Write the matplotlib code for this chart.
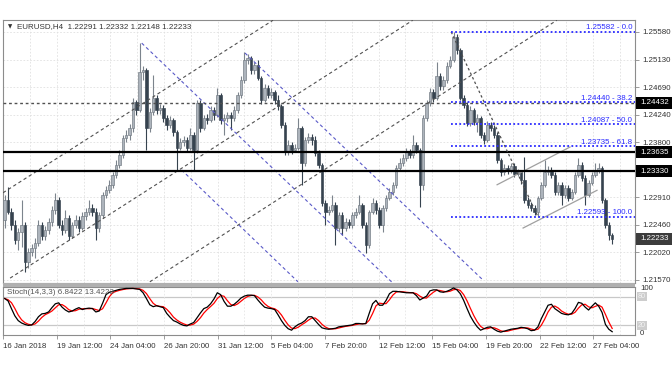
import numpy as np
import pandas as pd
import matplotlib
matplotlib.use("Agg")
import matplotlib.pyplot as plt
import matplotlib.transforms as mtransforms
from matplotlib.patches import Rectangle

plt.rcParams['font.family'] = ['Liberation Sans', 'DejaVu Sans']

# EURUSD H4 candles (bar index 0 = 16 Jan 2018)
opens = [1.2254, 1.2286, 1.2267, 1.2246, 1.2222, 1.2235, 1.2246, 1.2186, 1.2202, 1.2209,
         1.2217, 1.2246, 1.2228, 1.2238, 1.2251, 1.2270, 1.2286, 1.2246, 1.2238, 1.2257,
         1.2228, 1.2246, 1.2254, 1.2241, 1.2260, 1.2267, 1.2273, 1.2267, 1.2241, 1.2262,
         1.2294, 1.2302, 1.2311, 1.2327, 1.2343, 1.2359, 1.2387, 1.2391, 1.2403, 1.2445,
         1.2432, 1.2493, 1.2496, 1.2403, 1.2429, 1.2451, 1.2432, 1.2435, 1.2419, 1.2408,
         1.2416, 1.2396, 1.2370, 1.2380, 1.2383, 1.2370, 1.2391, 1.2367, 1.2443, 1.2403,
         1.2419, 1.2416, 1.2432, 1.2424, 1.2456, 1.2416, 1.2419, 1.2424, 1.2419, 1.2432,
         1.2456, 1.2480, 1.2513, 1.2516, 1.2496, 1.2505, 1.2484, 1.2448, 1.2467, 1.2456,
         1.2461, 1.2448, 1.2438, 1.2408, 1.2364, 1.2375, 1.2367, 1.2370, 1.2403, 1.2346,
         1.2383, 1.2388, 1.2383, 1.2362, 1.2343, 1.2281, 1.2267, 1.2270, 1.2278, 1.2241,
         1.2262, 1.2241, 1.2251, 1.2246, 1.2262, 1.2267, 1.2278, 1.2246, 1.2214, 1.2267,
         1.2281, 1.2270, 1.2246, 1.2273, 1.2290, 1.2299, 1.2311, 1.2338, 1.2346, 1.2354,
         1.2364, 1.2359, 1.2375, 1.2367, 1.2311, 1.2419, 1.2443, 1.2461, 1.2451, 1.2487,
         1.2471, 1.2480, 1.2503, 1.2513, 1.2550, 1.2529, 1.2451, 1.2440, 1.2411, 1.2432,
         1.2412, 1.2419, 1.2391, 1.2383, 1.2408, 1.2403, 1.2391, 1.2351, 1.2332, 1.2338,
         1.2335, 1.2341, 1.2328, 1.2332, 1.2319, 1.2286, 1.2278, 1.2273, 1.2267, 1.2290,
         1.2311, 1.2332, 1.2335, 1.2327, 1.2299, 1.2311, 1.2294, 1.2306, 1.2290, 1.2299,
         1.2327, 1.2343, 1.2322, 1.2294, 1.2314, 1.2327, 1.2335, 1.2338, 1.2286, 1.2246,
         1.22291]
highs = [1.2294, 1.2307, 1.2273, 1.2254, 1.2241, 1.2286, 1.2251, 1.2209, 1.2215, 1.2225,
         1.2254, 1.2251, 1.2244, 1.2257, 1.2277, 1.2298, 1.2291, 1.2254, 1.2270, 1.2262,
         1.2251, 1.2262, 1.2260, 1.2267, 1.2273, 1.2286, 1.2280, 1.2273, 1.2267, 1.2299,
         1.2309, 1.2319, 1.2332, 1.2351, 1.2367, 1.2391, 1.2400, 1.2409, 1.2451, 1.2448,
         1.2540, 1.2503, 1.2500, 1.2435, 1.2488, 1.2456, 1.2442, 1.2440, 1.2424, 1.2422,
         1.2419, 1.2400, 1.2387, 1.2390, 1.2388, 1.2403, 1.2396, 1.2448, 1.2448, 1.2424,
         1.2425, 1.2438, 1.2437, 1.2467, 1.2459, 1.2425, 1.2429, 1.2429, 1.2438, 1.2461,
         1.2487, 1.2526, 1.2522, 1.2519, 1.2509, 1.2513, 1.2487, 1.2474, 1.2472, 1.2467,
         1.2464, 1.2456, 1.2442, 1.2412, 1.2383, 1.2380, 1.2377, 1.2419, 1.2406, 1.2388,
         1.2395, 1.2393, 1.2390, 1.2367, 1.2346, 1.2286, 1.2277, 1.2294, 1.2283, 1.2267,
         1.2267, 1.2257, 1.2256, 1.2267, 1.2273, 1.2294, 1.2281, 1.2251, 1.2270, 1.2290,
         1.2286, 1.2275, 1.2278, 1.2294, 1.2306, 1.2315, 1.2343, 1.2354, 1.2361, 1.2370,
         1.2369, 1.2391, 1.2380, 1.2370, 1.2424, 1.2448, 1.2467, 1.2466, 1.2509, 1.2492,
         1.2487, 1.2509, 1.2519, 1.2558, 1.2555, 1.2532, 1.2456, 1.2445, 1.2438, 1.2435,
         1.2425, 1.2422, 1.2396, 1.2414, 1.2412, 1.2408, 1.2396, 1.2354, 1.2345, 1.2343,
         1.2346, 1.2346, 1.2336, 1.2335, 1.2356, 1.2291, 1.2283, 1.2278, 1.2293, 1.2315,
         1.2351, 1.2341, 1.2340, 1.2332, 1.2315, 1.2315, 1.2311, 1.2311, 1.2304, 1.2332,
         1.2354, 1.2348, 1.2327, 1.2319, 1.2332, 1.2346, 1.2346, 1.2341, 1.2290, 1.2251,
         1.22332]
lows = [1.2241, 1.2264, 1.2238, 1.2215, 1.2206, 1.2210, 1.2170, 1.2176, 1.2196, 1.2193,
        1.2212, 1.2222, 1.2222, 1.2231, 1.2244, 1.2264, 1.2241, 1.2230, 1.2233, 1.2222,
        1.2225, 1.2241, 1.2235, 1.2238, 1.2254, 1.2262, 1.2260, 1.2222, 1.2235, 1.2257,
        1.2290, 1.2298, 1.2306, 1.2322, 1.2338, 1.2354, 1.2380, 1.2383, 1.2396, 1.2424,
        1.2429, 1.2480, 1.2367, 1.2396, 1.2424, 1.2425, 1.2425, 1.2412, 1.2400, 1.2403,
        1.2390, 1.2335, 1.2367, 1.2374, 1.2364, 1.2367, 1.2335, 1.2362, 1.2396, 1.2400,
        1.2409, 1.2412, 1.2416, 1.2421, 1.2409, 1.2391, 1.2412, 1.2400, 1.2414, 1.2427,
        1.2451, 1.2475, 1.2506, 1.2490, 1.2490, 1.2480, 1.2442, 1.2445, 1.2451, 1.2451,
        1.2442, 1.2432, 1.2403, 1.2359, 1.2359, 1.2361, 1.2364, 1.2367, 1.2311, 1.2341,
        1.2378, 1.2375, 1.2357, 1.2338, 1.2277, 1.2246, 1.2262, 1.2267, 1.2214, 1.2235,
        1.2230, 1.2236, 1.2241, 1.2241, 1.2257, 1.2264, 1.2241, 1.2201, 1.2209, 1.2264,
        1.2264, 1.2241, 1.2235, 1.2268, 1.2286, 1.2294, 1.2306, 1.2333, 1.2341, 1.2349,
        1.2354, 1.2354, 1.2362, 1.2275, 1.2302, 1.2414, 1.2438, 1.2445, 1.2448, 1.2464,
        1.2464, 1.2475, 1.2500, 1.2509, 1.2522, 1.2448, 1.2435, 1.2406, 1.2406, 1.2408,
        1.2396, 1.2387, 1.2377, 1.2380, 1.2398, 1.2387, 1.2346, 1.2325, 1.2327, 1.2328,
        1.2330, 1.2324, 1.2325, 1.2312, 1.2281, 1.2273, 1.2268, 1.2262, 1.2259, 1.2286,
        1.2307, 1.2327, 1.2322, 1.2294, 1.2294, 1.2278, 1.2290, 1.2285, 1.2286, 1.2296,
        1.2324, 1.2317, 1.2278, 1.2291, 1.2311, 1.2324, 1.2330, 1.2281, 1.2241, 1.2222,
        1.22148]
closes = [1.2286, 1.2267, 1.2246, 1.2222, 1.2235, 1.2246, 1.2186, 1.2202, 1.2209, 1.2217,
          1.2246, 1.2228, 1.2238, 1.2251, 1.2270, 1.2286, 1.2246, 1.2238, 1.2257, 1.2228,
          1.2246, 1.2254, 1.2241, 1.2260, 1.2267, 1.2273, 1.2267, 1.2241, 1.2262, 1.2294,
          1.2302, 1.2311, 1.2327, 1.2343, 1.2359, 1.2387, 1.2391, 1.2403, 1.2445, 1.2432,
          1.2493, 1.2496, 1.2403, 1.2429, 1.2451, 1.2432, 1.2435, 1.2419, 1.2408, 1.2416,
          1.2396, 1.2370, 1.2380, 1.2383, 1.2370, 1.2391, 1.2367, 1.2443, 1.2403, 1.2419,
          1.2416, 1.2432, 1.2424, 1.2456, 1.2416, 1.2419, 1.2424, 1.2419, 1.2432, 1.2456,
          1.2480, 1.2513, 1.2516, 1.2496, 1.2505, 1.2484, 1.2448, 1.2467, 1.2456, 1.2461,
          1.2448, 1.2438, 1.2408, 1.2364, 1.2375, 1.2367, 1.2370, 1.2403, 1.2346, 1.2383,
          1.2388, 1.2383, 1.2362, 1.2343, 1.2281, 1.2267, 1.2270, 1.2278, 1.2241, 1.2262,
          1.2241, 1.2251, 1.2246, 1.2262, 1.2267, 1.2278, 1.2246, 1.2214, 1.2267, 1.2281,
          1.2270, 1.2246, 1.2273, 1.2290, 1.2299, 1.2311, 1.2338, 1.2346, 1.2354, 1.2364,
          1.2359, 1.2375, 1.2367, 1.2311, 1.2419, 1.2443, 1.2461, 1.2451, 1.2487, 1.2471,
          1.2480, 1.2503, 1.2513, 1.2550, 1.2529, 1.2451, 1.2440, 1.2411, 1.2432, 1.2412,
          1.2419, 1.2391, 1.2383, 1.2408, 1.2403, 1.2391, 1.2351, 1.2332, 1.2338, 1.2335,
          1.2341, 1.2328, 1.2332, 1.2319, 1.2286, 1.2278, 1.2273, 1.2267, 1.2290, 1.2311,
          1.2332, 1.2335, 1.2327, 1.2299, 1.2311, 1.2294, 1.2306, 1.2290, 1.2299, 1.2327,
          1.2343, 1.2322, 1.2294, 1.2314, 1.2327, 1.2335, 1.2338, 1.2286, 1.2246, 1.2229,
          1.22233]

# Stochastic %K (14,3,3); %D is its 3-bar average
stoch_k = [76, 71, 55, 40, 30, 25, 22, 20, 21, 28,
           38, 44, 45, 48, 57, 65, 67, 58, 52, 48,
           50, 54, 57, 53, 55, 56, 55, 48, 50, 66,
           84, 89, 91, 93, 95, 96, 97, 97, 97, 96,
           95, 88, 76, 63, 59, 61, 59, 57, 45, 37,
           30, 27, 23, 20, 19, 23, 26, 36, 46, 55,
           58, 65, 75, 88, 84, 70, 60, 60, 64, 70,
           77, 81, 83, 83, 82, 73, 65, 58, 56, 55,
           53, 42, 30, 20, 13, 10, 17, 22, 25, 30,
           38, 38, 30, 22, 15, 13, 12, 13, 14, 17,
           18, 19, 20, 21, 24, 24, 23, 24, 45, 65,
           72, 62, 62, 72, 86, 91, 91, 90, 89, 88,
           88, 88, 82, 73, 77, 81, 92, 94, 94, 90,
           89, 91, 94, 98, 94, 86, 72, 55, 39, 27,
           17, 10, 13, 16, 17, 12, 8, 6, 8, 10,
           12, 13, 14, 16, 15, 13, 9, 10, 17, 34,
           48, 62, 64, 55, 50, 45, 43, 42, 45, 55,
           68, 66, 58, 52, 60, 67, 60, 47, 22, 12,
           6.8422]

date_labels = ['16 Jan 2018', '19 Jan 12:00', '24 Jan 04:00', '26 Jan 20:00', '31 Jan 12:00',
               '5 Feb 04:00', '7 Feb 20:00', '12 Feb 12:00', '15 Feb 04:00', '19 Feb 20:00',
               '22 Feb 12:00', '27 Feb 04:00']
price_ticks = [1.25580, 1.25130, 1.24690, 1.24240, 1.23800,
               1.22910, 1.22460, 1.22020, 1.21570]

dashed_level = 1.24432
solid_levels = [1.23635, 1.23330]
last_price = 1.22233

fib_ratios = [0.0, 38.2, 50.0, 61.8, 100.0]
fib_prices = [1.25582, 1.24440, 1.24087, 1.23735, 1.22593]
fib_start_bar = 132.3
fib_low_bar = 158

# drawn objects as (bar, price) anchor pairs
gray_lines = [((-0.5, 1.2298), (79.5, 1.2577)),
              ((1.6, 1.2160), (120.9, 1.2577)),
              ((43.0, 1.2154), (163.6, 1.2577))]
blue_lines = [((40.6, 1.2540), (115.0, 1.2152)),
              ((71.2, 1.2524), (141.7, 1.2157)),
              ((52.4, 1.2335), (86.9, 1.2154))]
channel_lines = [((145.9, 1.2311), (167.5, 1.2372)),
                 ((153.6, 1.2241), (175.5, 1.2302))]

W, H = 672, 372
XMIN, XMAX = -0.504, 186.76
YMIN, YMAX = 1.21521, 1.25774
FS = 5.7
TXT = '#333333'
FRAME = '#8c8c8c'

fig = plt.figure(figsize=(W / 100, H / 100), dpi=100)
ax = fig.add_axes([3 / W, 1 - 283 / H, 632 / W, 263 / H])
ax2 = fig.add_axes([3 / W, 1 - 335 / H, 632 / W, 48 / H])

o = np.array(opens)
h = np.array(highs)
l = np.array(lows)
c = np.array(closes)
x = np.arange(len(c))
up = c >= o

# candles
wick_col = np.where(up, '#7c848d', '#36434f')
ax.vlines(x, l, h, colors=wick_col, lw=0.8, zorder=2)
body_bot = np.minimum(o, c)
body_h = np.maximum(np.abs(c - o), 0.00006)
ax.bar(x[up], body_h[up], bottom=body_bot[up], width=0.72,
       color='#adb4bc', edgecolor='#6f7780', lw=0.45, zorder=3)
ax.bar(x[~up], body_h[~up], bottom=body_bot[~up], width=0.72,
       color='#36434f', edgecolor='#36434f', lw=0.45, zorder=3)

# trend lines
for (x0, y0), (x1, y1) in gray_lines:
    ax.plot([x0, x1], [y0, y1], color='#505050', lw=0.8, dashes=(3, 2.5), zorder=4)
for (x0, y0), (x1, y1) in blue_lines:
    ax.plot([x0, x1], [y0, y1], color='#5a5ac8', lw=0.8, dashes=(3, 2.5), zorder=4)
for (x0, y0), (x1, y1) in channel_lines:
    ax.plot([x0, x1], [y0, y1], color='#a0a0a0', lw=0.9, zorder=4)

# horizontal levels
ax.axhline(dashed_level, color='#505050', lw=1.0, dashes=(2, 2), zorder=4)
for lv in solid_levels:
    ax.axhline(lv, color='black', lw=1.6, zorder=4)

# fibonacci retracement
ax.plot([fib_start_bar, fib_low_bar], [fib_prices[0], fib_prices[-1]],
        color='#505050', lw=0.9, dashes=(2, 2), zorder=4)
for r, p in zip(fib_ratios, fib_prices):
    ax.plot([fib_start_bar, XMAX], [p, p], color='#2a2aff', lw=1.3, dashes=(1, 1.3), zorder=5)
    ax.text(185.9, p + 0.00008, f'{p:.5f} - {r:.1f}', ha='right', va='bottom',
            color='#2a2aff', fontsize=FS, zorder=6)

ax.set_xlim(XMIN, XMAX)
ax.set_ylim(YMIN, YMAX)

# grid and axes styling
vgrid = [-0.5 + 7.95 * k for k in range(24)]
xticks = [-0.5 + 15.9 * k for k in range(12)]
ax.set_xticks(vgrid)
ax.tick_params(axis='x', length=0, labelbottom=False)
ax.yaxis.tick_right()
ax.set_yticks(price_ticks)
ax.set_yticklabels([f'{p:.5f}' for p in price_ticks])
ax.tick_params(axis='y', length=3, width=0.6, color=FRAME, labelsize=FS,
               labelcolor=TXT, pad=2)
ax.grid(True, color='#e0e0e0', lw=0.6, linestyle=(0, (2, 2)), zorder=0)
for s in ax.spines.values():
    s.set_color(FRAME)
    s.set_linewidth(0.8)

# stochastic panel
k = pd.Series(stoch_k, dtype=float)
d = k.rolling(3, min_periods=1).mean()
ax2.axhline(80, color='#c8c8c8', lw=0.9, zorder=1)
ax2.axhline(20, color='#c8c8c8', lw=0.9, zorder=1)
ax2.plot(x, d, color='#ff0000', lw=0.9, zorder=3)
ax2.plot(x, k, color='black', lw=0.9, zorder=4)
ax2.set_xlim(XMIN, XMAX)
ax2.set_ylim(0, 100)
ax2.set_yticks([])
ax2.set_xticks(xticks)
ax2.set_xticklabels(date_labels, ha='left')
ax2.set_xticks(vgrid, minor=True)
ax2.tick_params(axis='x', which='major', length=3, width=0.6, color=FRAME,
                labelsize=FS, labelcolor=TXT, pad=3)
ax2.tick_params(axis='x', which='minor', length=0)
ax2.grid(True, axis='x', which='both', color='#e6e6e6', lw=0.6, linestyle=(0, (2, 2)), zorder=0)
for s in ax2.spines.values():
    s.set_color(FRAME)
    s.set_linewidth(0.8)

# separator between panels
fig.add_artist(Rectangle((3 / W, 1 - 287 / H), 632 / W, 4 / H, transform=fig.transFigure,
                         fc='#b0b0b0', ec='none'))

# price boxes on the right scale
ytr = mtransforms.blended_transform_factory(fig.transFigure, ax.transData)
half = 0.00095
for p, fc in [(dashed_level, 'black'), (solid_levels[0], 'black'),
              (solid_levels[1], 'black'), (last_price, '#3c3c3c')]:
    fig.add_artist(Rectangle((636 / W, p - half), 36 / W, 2 * half, transform=ytr,
                             fc=fc, ec='none', zorder=5))
    fig.text(640 / W, p, f'{p:.5f}', transform=ytr, color='white', fontsize=FS,
             va='center', ha='left', zorder=6)

# stochastic scale labels
str2 = mtransforms.blended_transform_factory(fig.transFigure, ax2.transData)
fig.text(640 / W, 97, '100', transform=str2, color=TXT, fontsize=FS, va='center')
fig.text(640 / W, 3, '0', transform=str2, color=TXT, fontsize=FS, va='center')
for lv in (80, 20):
    fig.text(638 / W, lv, str(lv), transform=str2, color='#f2f2f2', fontsize=5.2,
             va='center', bbox=dict(boxstyle='square,pad=0.12', fc='#cdcdcd', ec='none'))

# header texts
fig.text(8 / W, 1 - 27 / H, '\u25bc', fontsize=4, color=TXT, va='center',
         family=['DejaVu Sans'])
fig.text(17 / W, 1 - 27 / H, 'EURUSD,H4  1.22291 1.22332 1.22148 1.22233',
         fontsize=5.8, color=TXT, va='center')
fig.text(7 / W, 1 - 293 / H, 'Stoch(14,3,3) 6.8422 13.4223', fontsize=5.8,
         color='#555555', va='center')

fig.savefig('out.png', dpi=100)
